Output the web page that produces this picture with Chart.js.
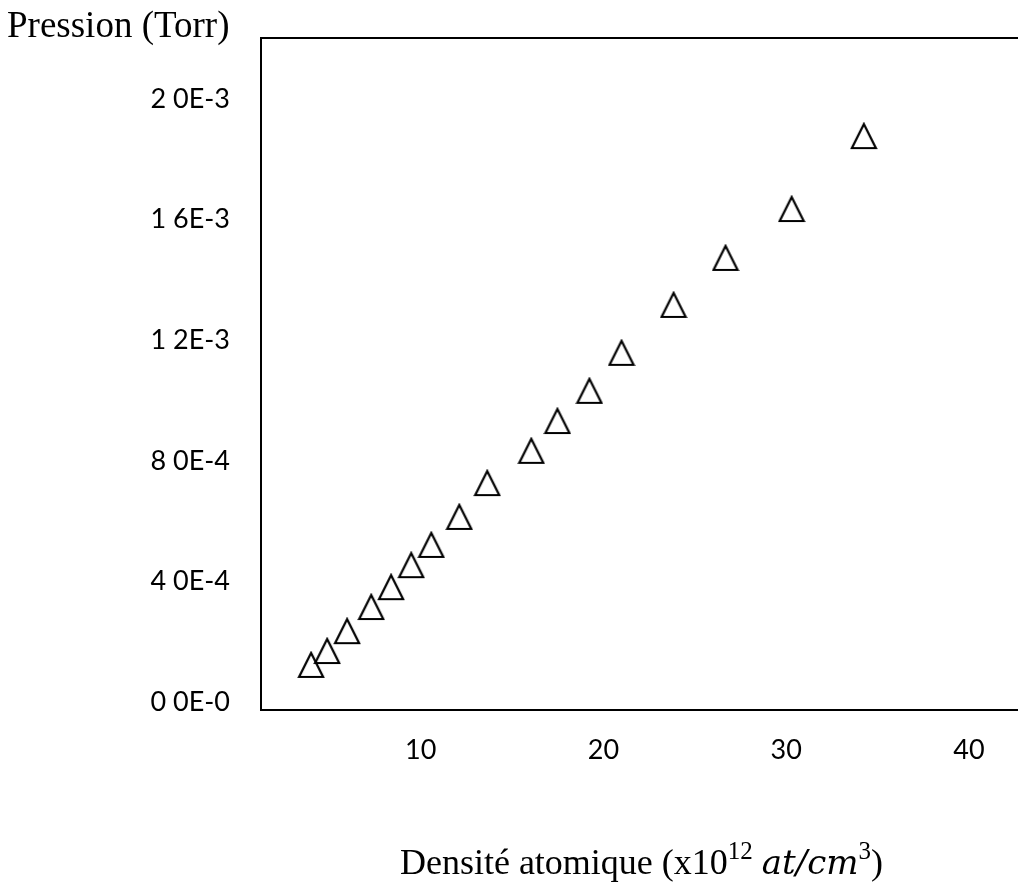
<!DOCTYPE html>
<html>
<head>
<meta charset="utf-8">
<script src="https://cdn.jsdelivr.net/npm/chart.js@4.4.1/dist/chart.umd.min.js"></script>
<style>
  html, body { margin: 0; padding: 0; background: #fff; overflow: hidden; }
  #wrap { width: 1018px; height: 882px; overflow: hidden; }
</style>
</head>
<body>
<div id="wrap"><canvas id="pressionChart" width="1034" height="882"></canvas></div>
<script>
// densite atomique (x10^12 at/cm3) et pression (Torr)
const densite = [4.00, 4.88, 5.97, 7.29, 8.38, 9.48, 10.58, 12.11, 13.64, 16.05, 17.48, 19.23, 20.99, 23.84, 26.68, 30.30, 34.25];
const pression = [1.23e-4, 1.69e-4, 2.35e-4, 3.15e-4, 3.81e-4, 4.54e-4, 5.21e-4, 6.14e-4, 7.26e-4, 8.33e-4, 9.32e-4, 1.032e-3, 1.158e-3, 1.317e-3, 1.473e-3, 1.635e-3, 1.877e-3];

const xTicks = [10, 20, 30, 40];
const yTicks = [0, 4e-4, 8e-4, 1.2e-3, 1.6e-3, 2.0e-3];
const yTickLabels = ["0 0E-0", "4 0E-4", "8 0E-4", "1 2E-3", "1 6E-3", "2 0E-3"];

const tickFont = { family: "Lato", size: 27 };

// triangle creux comme marqueur
function triangleMarker() {
  const c = document.createElement("canvas");
  c.width = 28;
  c.height = 28;
  const g = c.getContext("2d");
  g.strokeStyle = "#000";
  g.lineWidth = 2.2;
  g.lineJoin = "miter";
  g.beginPath();
  g.moveTo(14, 2);
  g.lineTo(26, 26);
  g.lineTo(2, 26);
  g.closePath();
  g.stroke();
  return c;
}

const frameAndTitles = {
  id: "frameAndTitles",
  afterDraw(chart) {
    const ctx = chart.ctx;
    const a = chart.chartArea;
    ctx.save();
    // trait du haut du cadre
    ctx.strokeStyle = "#000";
    ctx.lineWidth = 2;
    ctx.beginPath();
    ctx.moveTo(a.left - 1, a.top);
    ctx.lineTo(chart.width, a.top);
    ctx.stroke();

    ctx.fillStyle = "#000";
    ctx.textBaseline = "alphabetic";
    ctx.textAlign = "left";
    ctx.font = "37px 'Liberation Serif'";
    ctx.fillText("Pression (Torr)", 7, 37);

    // titre de l'axe x avec exposants
    const parts = [
      { t: "Densité atomique (x10", f: "36px 'Liberation Serif'", dy: 0 },
      { t: "12", f: "25px 'Liberation Serif'", dy: -15 },
      { t: " ", f: "36px 'Liberation Serif'", dy: 0 },
      { t: "at/cm", f: "italic 34px 'DejaVu Serif'", dy: 0 },
      { t: "3", f: "25px 'Liberation Serif'", dy: -15 },
      { t: ")", f: "36px 'Liberation Serif'", dy: 0 },
    ];
    let total = 0;
    parts.forEach((p) => {
      ctx.font = p.f;
      p.w = ctx.measureText(p.t).width;
      total += p.w;
    });
    let x = 883 - total;
    parts.forEach((p) => {
      ctx.font = p.f;
      ctx.fillText(p.t, x, 874 + p.dy);
      x += p.w;
    });
    ctx.restore();
  },
};

const points = densite.map((d, i) => ({ x: d, y: pression[i] }));

const ctx = document.getElementById("pressionChart").getContext("2d");
const chart = new Chart(ctx, {
  type: "scatter",
  data: {
    datasets: [
      {
        label: "Pression",
        data: points,
        pointStyle: triangleMarker(),
        pointRadius: 14,
        borderColor: "#000",
        backgroundColor: "rgba(0,0,0,0)",
      },
    ],
  },
  options: {
    responsive: false,
    animation: false,
    layout: { padding: { top: 38, left: 0, right: 0, bottom: 0 } },
    plugins: {
      legend: { display: false },
      tooltip: { enabled: false },
    },
    scales: {
      x: {
        type: "linear",
        min: 1.26,
        max: 42.74,
        grid: { display: false, drawTicks: false },
        border: { display: true, color: "#000", width: 2 },
        afterBuildTicks: (scale) => {
          scale.ticks = xTicks.map((v) => ({ value: v }));
        },
        afterFit: (scale) => {
          scale.height = 172;
          scale.paddingLeft = 0;
          scale.paddingRight = 0;
        },
        ticks: {
          color: "#000",
          font: tickFont,
          padding: 24,
          maxRotation: 0,
          callback: (v) => String(v),
        },
      },
      y: {
        type: "linear",
        min: -0.0265e-3,
        max: 2.2023e-3,
        grid: { display: false, drawTicks: false },
        border: { display: true, color: "#000", width: 2 },
        afterBuildTicks: (scale) => {
          scale.ticks = yTicks.map((v) => ({ value: v }));
        },
        afterFit: (scale) => {
          scale.width = 261;
          scale.paddingTop = 0;
          scale.paddingBottom = 0;
        },
        ticks: {
          color: "#000",
          font: tickFont,
          padding: 31,
          callback: (v) => {
            const i = yTicks.findIndex((t) => Math.abs(t - v) < 1e-9);
            return i >= 0 ? yTickLabels[i] : "";
          },
        },
      },
    },
  },
  plugins: [frameAndTitles],
});
</script>
</body>
</html>
